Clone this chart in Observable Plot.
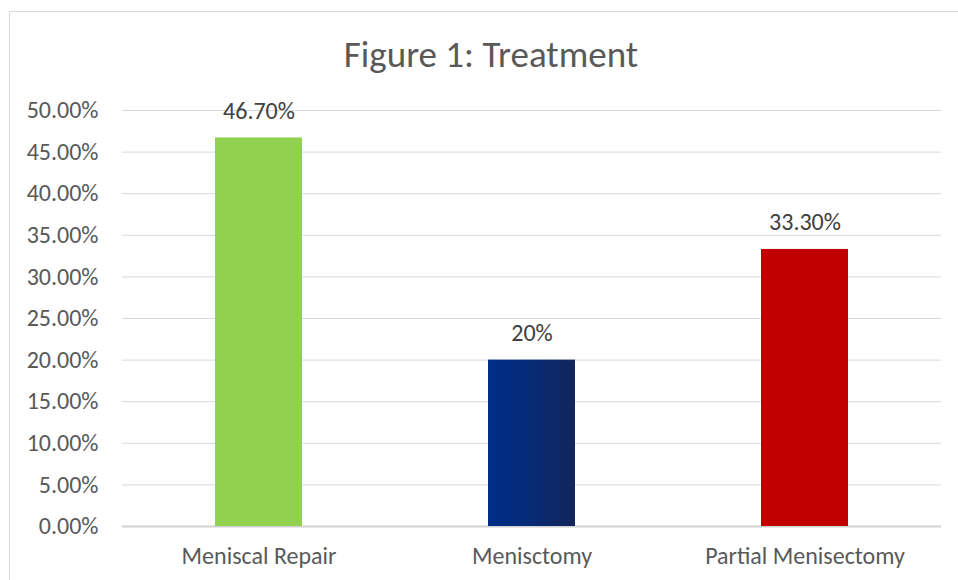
<!DOCTYPE html>
<html>
<head>
<meta charset="utf-8">
<script src="https://cdn.jsdelivr.net/npm/d3@7"></script>
<script src="https://cdn.jsdelivr.net/npm/@observablehq/plot@0.6"></script>
<style>
  html, body { margin: 0; padding: 0; background: #fff; overflow: hidden; width: 958px; height: 580px; }
  #frame { position: absolute; left: 9px; top: 11px; width: 1000px; height: 700px; border: 1px solid #d9d9d9; box-sizing: border-box; }
  #title { width: 962px; padding-top: 12px; height: 62px; line-height: 62px; padding-bottom: 10px; text-align: center;
    font-family: Carlito, "Liberation Sans Narrow", "Open Sans", sans-serif; font-size: 37px; color: #595959; }
  #chart { position: absolute; left: 0; top: 84px; }
</style>
</head>
<body>
<div id="frame">
  <div id="title">Figure 1: Treatment</div>
  <div id="chart"></div>
</div>
<script>
const categories = ["Meniscal Repair", "Menisctomy", "Partial Menisectomy"];
const values = [0.467, 0.20, 0.333];
const valueLabels = ["46.70%", "20%", "33.30%"];
const barColors = ["#92d050", "url(#menGrad)", "#c00000"];
const yTicks = [0, 0.05, 0.10, 0.15, 0.20, 0.25, 0.30, 0.35, 0.40, 0.45, 0.50];

const data = categories.map((c, i) => ({cat: c, value: values[i], label: valueLabels[i], color: barColors[i]}));
const FONT = 'Carlito, "Liberation Sans Narrow", "Open Sans", sans-serif';

const chart = Plot.plot({
  width: 948,
  height: 500,
  marginLeft: 112,
  marginRight: 17,
  marginTop: 14,
  marginBottom: 70,
  style: {fontFamily: FONT, fontSize: "24px", color: "#595959", background: "#fff", overflow: "visible"},
  x: {domain: categories, paddingInner: 0.681, paddingOuter: 0.3405, label: null, tickSize: 0, tickPadding: 20},
  y: {domain: [0, 0.5], ticks: yTicks, tickFormat: d3.format(".2%"), label: null, tickSize: 0, tickPadding: 24},
  color: {type: "identity"},
  marks: [
    Plot.ruleY(yTicks, {stroke: "#d9d9d9", strokeWidth: 1}),
    Plot.ruleY([0], {stroke: "#d0d0d0", strokeWidth: 2}),
    Plot.barY(data, {x: "cat", y: "value", fill: "color"}),
    Plot.text(data, {x: "cat", y: "value", text: "label", dy: -27, fill: "#404040", fontSize: 24})
  ]
});

const svg = d3.select(chart);
const defs = svg.insert("defs", ":first-child");
const g = defs.append("linearGradient").attr("id", "menGrad").attr("x1", "0").attr("x2", "1").attr("y1", "0").attr("y2", "0");
g.append("stop").attr("offset", "0%").attr("stop-color", "#002d86");
g.append("stop").attr("offset", "40%").attr("stop-color", "#052c7a");
g.append("stop").attr("offset", "100%").attr("stop-color", "#13255a");

document.getElementById("chart").appendChild(chart);
</script>
</body>
</html>
